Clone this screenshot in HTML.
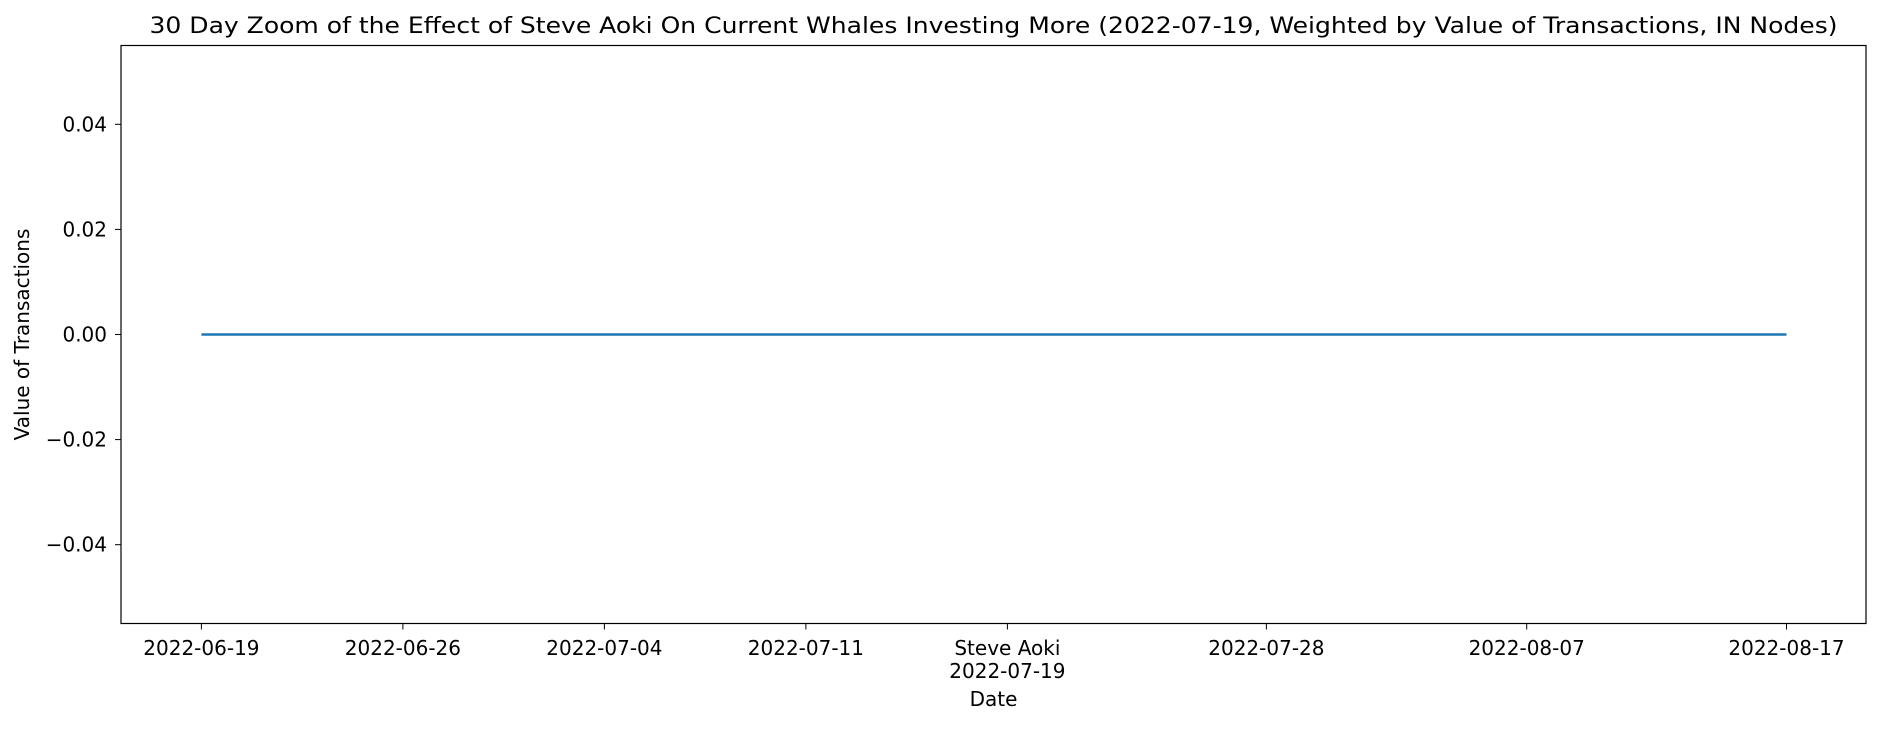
<!DOCTYPE html>
<html><head><meta charset="utf-8"><style>
body{margin:0;background:#fff;}
svg text{font-family:"DejaVu Sans","Liberation Sans",sans-serif;fill:#000;}
</style></head><body>
<svg id="chart" width="1880" height="725" xmlns="http://www.w3.org/2000/svg">
<rect width="1880" height="725" fill="#fff"/>
<text x="993.5" y="33" font-size="22" text-anchor="middle" textLength="1688" lengthAdjust="spacingAndGlyphs">30 Day Zoom of the Effect of Steve Aoki On Current Whales Investing More (2022-07-19, Weighted by Value of Transactions, IN Nodes)</text>
<g id="yticks"></g><g id="xticks"></g>
<polyline id="series" fill="none" stroke="#1f77b4" stroke-width="2.5"/>
<rect x="121" y="45.5" width="1745" height="578" fill="none" stroke="#000" stroke-width="1.2"/>
<text x="993.5" y="706" font-size="20" text-anchor="middle">Date</text>
<text x="29" y="334.5" font-size="20" text-anchor="middle" transform="rotate(-90 29 334.5)">Value of Transactions</text>
</svg>
<script>
const dayOffsets=[];for(let i=0;i<60;i++)dayOffsets.push(i);
const values=[0,0,0,0,0,0,0,0,0,0,0,0,0,0,0,0,0,0,0,0,0,0,0,0,0,0,0,0,0,0,0,0,0,0,0,0,0,0,0,0,0,0,0,0,0,0,0,0,0,0,0,0,0,0,0,0,0,0,0,0];
const yTicks=[0.04,0.02,0,-0.02,-0.04];
const yTickLabels=["0.04","0.02","0.00","\u22120.02","\u22120.04"];
const xTickDays=[0,7.5,15,22.5,30,39.64,49.33,59];
const xTickLabels=["2022-06-19","2022-06-26","2022-07-04","2022-07-11","Steve Aoki|2022-07-19","2022-07-28","2022-08-07","2022-08-17"];
const yMin=-0.055,yMax=0.055,plotTop=45.5,plotBottom=623.5;
const x0=201.4,x59=1786.5;
const X=d=>x0+(x59-x0)*d/59;
const Y=v=>plotBottom-(v-yMin)/(yMax-yMin)*(plotBottom-plotTop);
const NS="http://www.w3.org/2000/svg";
document.getElementById('series').setAttribute('points',dayOffsets.map((d,i)=>X(d)+','+Y(values[i])).join(' '));
const yg=document.getElementById('yticks');
yTicks.forEach((v,i)=>{
 const l=document.createElementNS(NS,'line');
 
 
 l.setAttribute('x1',115);l.setAttribute('x2',121);l.setAttribute('y1',Y(v));l.setAttribute('y2',Y(v));l.setAttribute('stroke','#000');
 yg.appendChild(l);
 const t=document.createElementNS(NS,'text');
 
 
 t.setAttribute('x',107);t.setAttribute('y',Y(v)+7);t.setAttribute('font-size','20');t.setAttribute('text-anchor','end');
 t.textContent=yTickLabels[i];yg.appendChild(t);
});
const xg=document.getElementById('xticks');
xTickDays.forEach((d,i)=>{
 const l=document.createElementNS(NS,'line');
 
 
 l.setAttribute('x1',X(d));l.setAttribute('x2',X(d));l.setAttribute('y1',623.5);l.setAttribute('y2',629.5);l.setAttribute('stroke','#000');
 xg.appendChild(l);
 xTickLabels[i].split('|').forEach((s,j)=>{
  const t=document.createElementNS(NS,'text');
  
  
  t.setAttribute('x',X(d));t.setAttribute('y',655+j*23);t.setAttribute('font-size','20');t.setAttribute('text-anchor','middle');
  t.textContent=s;xg.appendChild(t);
 });
});
</script>
</body></html>
